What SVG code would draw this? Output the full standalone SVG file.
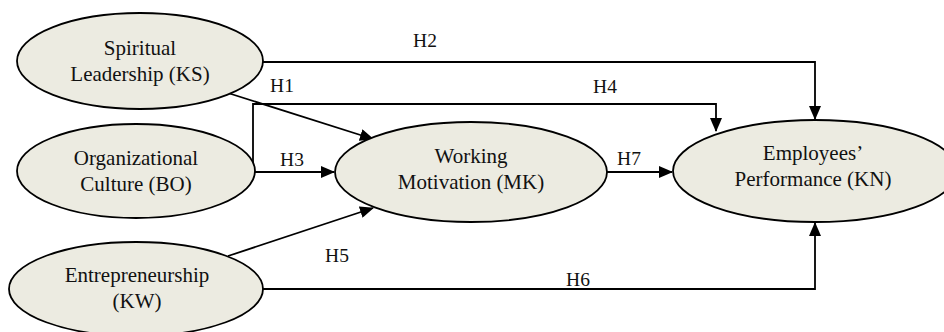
<svg xmlns="http://www.w3.org/2000/svg" width="944" height="332" viewBox="0 0 944 332">
<defs>
<marker id="arr" markerWidth="14" markerHeight="12" refX="13" refY="6" orient="auto" markerUnits="userSpaceOnUse">
<path d="M0,0 L14,6 L0,12 Z" fill="#000"/>
</marker>
<style>
.n{fill:#ECEBE1;stroke:#000;stroke-width:1.8}
.t{font-family:'Liberation Serif','Times New Roman',serif;font-size:21px;fill:#111;text-anchor:middle}
.l{font-family:'Liberation Serif','Times New Roman',serif;font-size:19.5px;fill:#111;text-anchor:middle}
.c{fill:none;stroke:#000;stroke-width:1.8}
</style>
</defs>
<rect width="944" height="332" fill="#fff"/>
<g id="connectors">
<path class="c" d="M263,62 H815 V119" marker-end="url(#arr)"/>
<path class="c" d="M253,172 V104 H716 V131" marker-end="url(#arr)"/>
<path class="c" d="M253,172 H334" marker-end="url(#arr)"/>
<path class="c" d="M228,93 L373,139" marker-end="url(#arr)"/>
<path class="c" d="M607,172 H672" marker-end="url(#arr)"/>
<path class="c" d="M228,256 L373,208" marker-end="url(#arr)"/>
<path class="c" d="M263,289 H815 V223" marker-end="url(#arr)"/>
<text class="l" x="425" y="47">H2</text>
<text class="l" x="282" y="92">H1</text>
<text class="l" x="605" y="93">H4</text>
<text class="l" x="292" y="166">H3</text>
<text class="l" x="629" y="165">H7</text>
<text class="l" x="337" y="262">H5</text>
<text class="l" x="578" y="286">H6</text>
</g>
<g id="KS">
<ellipse class="n" cx="140" cy="61" rx="123" ry="48"/>
<text class="t" x="140" y="55">Spiritual</text>
<text class="t" x="140" y="81">Leadership (KS)</text>
</g>
<g id="BO">
<ellipse class="n" cx="136" cy="171" rx="119" ry="47"/>
<text class="t" x="136" y="165">Organizational</text>
<text class="t" x="136" y="191">Culture (BO)</text>
</g>
<g id="KW">
<ellipse class="n" cx="136" cy="289" rx="127" ry="47"/>
<text class="t" x="137" y="282">Entrepreneurship</text>
<text class="t" x="137" y="308">(KW)</text>
</g>
<g id="MK">
<ellipse class="n" cx="471" cy="172" rx="136" ry="50"/>
<text class="t" x="471" y="163">Working</text>
<text class="t" x="471" y="189">Motivation (MK)</text>
</g>
<g id="KN">
<ellipse class="n" cx="815" cy="171" rx="142" ry="51"/>
<text class="t" x="813" y="160">Employees’</text>
<text class="t" x="813" y="186">Performance (KN)</text>
</g>
</svg>
